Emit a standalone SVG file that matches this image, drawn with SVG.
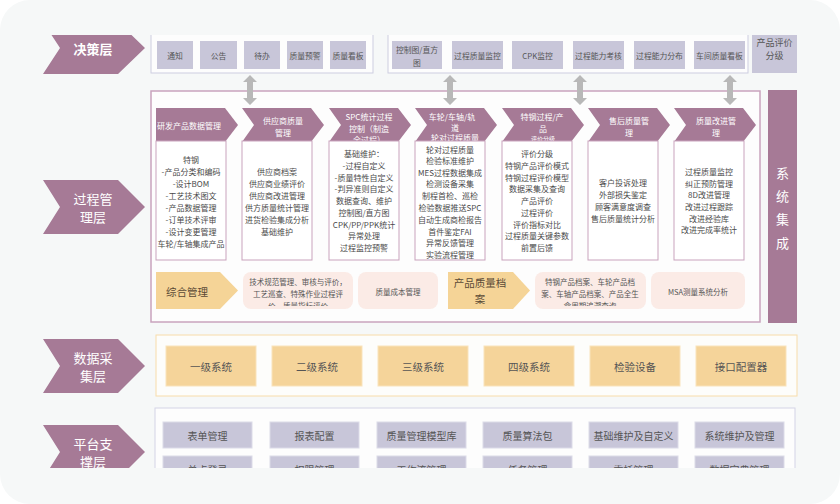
<svg xmlns="http://www.w3.org/2000/svg" width="840" height="504" viewBox="0 0 840 504">
<defs>
<clipPath id="view"><rect x="0" y="35" width="840" height="433"/></clipPath>
<clipPath id="rb1c"><rect x="243" y="272" width="110" height="34"/></clipPath>
<clipPath id="rb3c"><rect x="535" y="272" width="111" height="34"/></clipPath>
<style>
text{font-family:"Noto Sans CJK SC","Noto Sans",sans-serif;text-anchor:middle;dominant-baseline:central}
.lay{fill:#a67a96}
.layt{fill:#ffffff;font-size:13px}
.frame{fill:#fdfdfd;stroke:#cdcde0;stroke-width:1}
.tb{fill:#c8c6d9}
.tbt{fill:#555;font-size:7.8px}
.arr{fill:#b8b8b8}
.pframe{fill:#fdfdfd;stroke:#c9a3bd;stroke-width:1.5}
.hdr{fill:#a67a96}
.hdrt{fill:#ffffff;font-size:8px}
.body{fill:#ffffff;stroke:#c9a3bd;stroke-width:1}
.bt{fill:#4a4a4a;font-size:8px}
.ychev{fill:#f5d497}
.ycht{fill:#5b4a36;font-size:10.5px}
.rb{fill:#fbebe6}
.rbt{fill:#555;font-size:7.5px}
.dframe{fill:#fdfdfb;stroke:#f7dcaa;stroke-width:1}
.db{fill:#f5d49a;stroke:#f9e3bb;stroke-width:1}
.dbt{fill:#555;font-size:10.5px}
.plframe{fill:#fdfdfd;stroke:#d3d3e6;stroke-width:1}
.pb{fill:#c8c6d9;stroke:#dcdbe8;stroke-width:1}
.pbt{fill:#555;font-size:10px}
</style>
</defs>
<rect width="840" height="504" fill="#ffffff"/>
<rect width="840" height="504" rx="30" fill="#f6f8f8"/>
<g clip-path="url(#view)">
<g id="layer-decision">
<path class="lay" d="M43,22 L118,22 L145,48 L118,74 L43,74 L60,48 Z"/>
<text class="layt" x="93" y="48" font-weight="bold">决策层</text>
</g>
<g id="layer-process">
<path class="lay" d="M43,180 L118,180 L145,207 L118,234 L43,234 L60,207 Z"/>
<text class="layt" x="93" y="198">过程管</text>
<text class="layt" x="93" y="216">理层</text>
</g>
<g id="layer-data">
<path class="lay" d="M43,339 L118,339 L145,366 L118,393 L43,393 L60,366 Z"/>
<text class="layt" x="93" y="357">数据采</text>
<text class="layt" x="93" y="375">集层</text>
</g>
<g id="layer-platform">
<path class="lay" d="M43,425 L118,425 L145,452 L118,479 L43,479 L60,452 Z"/>
<text class="layt" x="93" y="443">平台支</text>
<text class="layt" x="93" y="461">撑层</text>
</g>

<g id="decision-group1">
<rect class="frame" x="151" y="28" width="222" height="45"/>
<g id="d-tongzhi"><rect class="tb" x="157" y="41" width="36" height="28"/><text class="tbt" x="175" y="55">通知</text></g>
<g id="d-gonggao"><rect class="tb" x="200" y="41" width="37" height="28"/><text class="tbt" x="218.5" y="55">公告</text></g>
<g id="d-daiban"><rect class="tb" x="244" y="41" width="36" height="28"/><text class="tbt" x="262" y="55">待办</text></g>
<g id="d-yujing"><rect class="tb" x="287" y="41" width="36" height="28"/><text class="tbt" x="305" y="55">质量预警</text></g>
<g id="d-kanban"><rect class="tb" x="330" y="41" width="36" height="28"/><text class="tbt" x="348" y="55">质量看板</text></g>
</g>
<g id="decision-group2">
<rect class="frame" x="388" y="28" width="360" height="45"/>
<g id="d-kzt"><rect class="tb" x="392" y="41" width="50" height="28"/><text class="tbt" x="417" y="49">控制图/直方</text><text class="tbt" x="417" y="62">图</text></g>
<g id="d-gcjk"><rect class="tb" x="452" y="41" width="51" height="28"/><text class="tbt" x="477.5" y="55">过程质量监控</text></g>
<g id="d-cpk"><rect class="tb" x="512" y="41" width="51" height="28"/><text class="tbt" x="537.5" y="55">CPK监控</text></g>
<g id="d-nlkh"><rect class="tb" x="573" y="41" width="51" height="28"/><text class="tbt" x="598.5" y="55">过程能力考核</text></g>
<g id="d-nlfb"><rect class="tb" x="634" y="41" width="51" height="28"/><text class="tbt" x="659.5" y="55">过程能力分布</text></g>
<g id="d-cjkb"><rect class="tb" x="694" y="41" width="51" height="28"/><text class="tbt" x="719.5" y="55">车间质量看板</text></g>
</g>
<g id="d-pjfj">
<rect class="tb" x="752" y="28" width="45" height="45"/>
<text class="tbt" x="774.5" y="42" style="font-size:9px">产品评价</text>
<text class="tbt" x="774.5" y="55" style="font-size:9px">分级</text>
</g>

<g id="process-frame">
<rect class="pframe" x="151" y="91" width="609" height="231"/>
</g>

<g id="system-integration">
<rect x="768" y="90" width="29" height="233" fill="#a67a96"/>
<text class="layt" x="782.5" y="172">系</text>
<text class="layt" x="782.5" y="195">统</text>
<text class="layt" x="782.5" y="218">集</text>
<text class="layt" x="782.5" y="242">成</text>
</g>

<g id="col1">
<path class="hdr" d="M156,108 L225,108 L238,125 L225,142 L156,142 Z"/>
<text class="hdrt" x="189" y="125">研发产品数据管理</text>
<rect class="body" x="156" y="141" width="70" height="119"/>
<text class="bt"><tspan x="191" y="159">特钢</tspan><tspan x="191" y="171">-产品分类和编码</tspan><tspan x="191" y="183">-设计BOM</tspan><tspan x="191" y="195">-工艺技术图文</tspan><tspan x="191" y="207">-产品数据管理</tspan><tspan x="191" y="219">-订单技术评审</tspan><tspan x="191" y="231">-设计变更管理</tspan><tspan x="191" y="243">车轮/车轴集成产品</tspan></text>
</g>
<g id="col2">
<path class="hdr" d="M242,108 L311,108 L324,125 L311,142 L242,142 L254,125 Z"/>
<text class="hdrt" x="283" y="120">供应商质量</text>
<text class="hdrt" x="283" y="132">管理</text>
<rect class="body" x="242" y="141" width="70" height="119"/>
<text class="bt"><tspan x="277" y="171">供应商档案</tspan><tspan x="277" y="183">供应商业绩评价</tspan><tspan x="277" y="195">供应商改进管理</tspan><tspan x="277" y="207">供方质量统计管理</tspan><tspan x="277" y="219">进货检验集成分析</tspan><tspan x="277" y="231">基础维护</tspan></text>
</g>
<g id="col3">
<path class="hdr" d="M329,108 L398,108 L411,125 L398,142 L329,142 L341,125 Z"/>
<text class="hdrt" x="369" y="116">SPC统计过程</text>
<text class="hdrt" x="369" y="128">控制（制造</text>
<text class="hdrt" x="369" y="139">全过程）</text>
<rect class="body" x="329" y="141" width="70" height="119"/>
<text class="bt"><tspan x="364" y="153">基础维护：</tspan><tspan x="364" y="165">-过程自定义</tspan><tspan x="364" y="176.5">-质量特性自定义</tspan><tspan x="364" y="188">-判异准则自定义</tspan><tspan x="364" y="200">数据查询、维护</tspan><tspan x="364" y="212">控制图/直方图</tspan><tspan x="364" y="223.5">CPK/PP/PPK统计</tspan><tspan x="364" y="235">异常处理</tspan><tspan x="364" y="247">过程监控预警</tspan></text>
</g>
<g id="col4">
<path class="hdr" d="M415,108 L484,108 L497,125 L484,142 L415,142 L427,125 Z"/>
<text class="hdrt" x="452" y="116">车轮/车轴/轨</text>
<text class="hdrt" x="455" y="127.5">道</text>
<text class="hdrt" x="455" y="137.5">轮对过程质量</text>
<rect class="body" x="415" y="141" width="70" height="119"/>
<text class="bt"><tspan x="450" y="148.5">轮对过程质量</tspan><tspan x="450" y="160">检验标准维护</tspan><tspan x="450" y="171.5">MES过程数据集成</tspan><tspan x="450" y="183">检测设备采集</tspan><tspan x="450" y="195">制程首检、巡检</tspan><tspan x="450" y="207">检验数据推送SPC</tspan><tspan x="450" y="219">自动生成商检报告</tspan><tspan x="450" y="230.5">首件鉴定FAI</tspan><tspan x="450" y="242">异常反馈管理</tspan><tspan x="450" y="254">实验流程管理</tspan></text>
</g>
<g id="col5">
<path class="hdr" d="M502,108 L571,108 L584,125 L571,142 L502,142 L514,125 Z"/>
<text class="hdrt" x="542" y="116">特钢过程/产</text>
<text class="hdrt" x="543" y="128">品</text>
<text class="hdrt" x="543" y="138" style="font-size:6px">评价分级</text>
<rect class="body" x="502" y="141" width="70" height="119"/>
<text class="bt"><tspan x="537" y="153">评价分级</tspan><tspan x="537" y="165">特钢产品评价模式</tspan><tspan x="537" y="176.5">特钢过程评价模型</tspan><tspan x="537" y="188">数据采集及查询</tspan><tspan x="537" y="200">产品评价</tspan><tspan x="537" y="212">过程评价</tspan><tspan x="537" y="223.5">评价指标对比</tspan><tspan x="537" y="235">过程质量关键参数</tspan><tspan x="537" y="247">前置后馈</tspan></text>
</g>
<g id="col6">
<path class="hdr" d="M588,108 L657,108 L670,125 L657,142 L588,142 L600,125 Z"/>
<text class="hdrt" x="629" y="120">售后质量管</text>
<text class="hdrt" x="629" y="132">理</text>
<rect class="body" x="588" y="141" width="70" height="119"/>
<text class="bt"><tspan x="623" y="182">客户投诉处理</tspan><tspan x="623" y="194">外部损失鉴定</tspan><tspan x="623" y="206">顾客满意度调查</tspan><tspan x="623" y="218">售后质量统计分析</tspan></text>
</g>
<g id="col7">
<path class="hdr" d="M674,108 L743,108 L756,125 L743,142 L674,142 L686,125 Z"/>
<text class="hdrt" x="716" y="120">质量改进管</text>
<text class="hdrt" x="716" y="132">理</text>
<rect class="body" x="674" y="141" width="70" height="119"/>
<text class="bt"><tspan x="709" y="171">过程质量监控</tspan><tspan x="709" y="182.5">纠正预防管理</tspan><tspan x="709" y="194">8D改进管理</tspan><tspan x="709" y="206">改进过程跟踪</tspan><tspan x="709" y="217.5">改进经验库</tspan><tspan x="709" y="229">改进完成率统计</tspan></text>
</g>

<g id="zonghe">
<path class="ychev" d="M156,272 L220,272 L238,290.5 L220,309 L156,309 Z"/>
<text class="ycht" x="187" y="291">综合管理</text>
</g>
<g id="rb1">
<rect class="rb" x="243" y="272" width="110" height="37" rx="8"/>
<g clip-path="url(#rb1c)"><text class="rbt"><tspan x="298" y="281">技术规范管理、审核与评价，</tspan><tspan x="298" y="293">工艺巡查、特殊作业过程评</tspan><tspan x="298" y="305">价、质量指标评价</tspan></text></g>
</g>
<g id="rb2">
<rect class="rb" x="358" y="272" width="80" height="37" rx="8"/>
<text class="rbt" x="398" y="291">质量成本管理</text>
</g>
<g id="dangan">
<path class="ychev" d="M448,272 L513,272 L530,290.5 L513,309 L448,309 Z"/>
<text class="ycht" x="480" y="282">产品质量档</text>
<text class="ycht" x="480" y="298">案</text>
</g>
<g id="rb3">
<rect class="rb" x="535" y="272" width="111" height="37" rx="8"/>
<g clip-path="url(#rb3c)"><text class="rbt"><tspan x="590" y="281">特钢产品档案、车轮产品档</tspan><tspan x="590" y="293">案、车轴产品档案、产品全生</tspan><tspan x="590" y="305">命周期追溯查询</tspan></text></g>
</g>
<g id="rb4">
<rect class="rb" x="651" y="272" width="94" height="37" rx="8"/>
<text class="rbt" x="698" y="291">MSA测量系统分析</text>
</g>

<g id="data-layer">
<rect class="dframe" x="156" y="335" width="641" height="61"/>
<g id="ds1"><rect class="db" x="166" y="346" width="90" height="40"/><text class="dbt" x="211" y="366">一级系统</text></g>
<g id="ds2"><rect class="db" x="272" y="346" width="90" height="40"/><text class="dbt" x="317" y="366">二级系统</text></g>
<g id="ds3"><rect class="db" x="378" y="346" width="90" height="40"/><text class="dbt" x="423" y="366">三级系统</text></g>
<g id="ds4"><rect class="db" x="484" y="346" width="90" height="40"/><text class="dbt" x="529" y="366">四级系统</text></g>
<g id="ds5"><rect class="db" x="590" y="346" width="90" height="40"/><text class="dbt" x="635" y="366">检验设备</text></g>
<g id="ds6"><rect class="db" x="696" y="346" width="90" height="40"/><text class="dbt" x="741" y="366">接口配置器</text></g>
</g>

<g id="platform-layer">
<rect class="plframe" x="155" y="408" width="640" height="80"/>
<g id="p1"><rect class="pb" x="163" y="422" width="89" height="26"/><text class="pbt" x="207.5" y="435">表单管理</text></g>
<g id="p2"><rect class="pb" x="270" y="422" width="89" height="26"/><text class="pbt" x="314.5" y="435">报表配置</text></g>
<g id="p3"><rect class="pb" x="377" y="422" width="89" height="26"/><text class="pbt" x="421.5" y="435">质量管理模型库</text></g>
<g id="p4"><rect class="pb" x="483" y="422" width="89" height="26"/><text class="pbt" x="527.5" y="435">质量算法包</text></g>
<g id="p5"><rect class="pb" x="589" y="422" width="89" height="26"/><text class="pbt" x="633.5" y="435">基础维护及自定义</text></g>
<g id="p6"><rect class="pb" x="695" y="422" width="89" height="26"/><text class="pbt" x="739.5" y="435">系统维护及管理</text></g>
<g id="p7"><rect class="pb" x="163" y="456" width="89" height="26"/><text class="pbt" x="207.5" y="469">单点登录</text></g>
<g id="p8"><rect class="pb" x="270" y="456" width="89" height="26"/><text class="pbt" x="314.5" y="469">权限管理</text></g>
<g id="p9"><rect class="pb" x="377" y="456" width="89" height="26"/><text class="pbt" x="421.5" y="469">工作流管理</text></g>
<g id="p10"><rect class="pb" x="483" y="456" width="89" height="26"/><text class="pbt" x="527.5" y="469">任务管理</text></g>
<g id="p11"><rect class="pb" x="589" y="456" width="89" height="26"/><text class="pbt" x="633.5" y="469">委托管理</text></g>
<g id="p12"><rect class="pb" x="695" y="456" width="89" height="26"/><text class="pbt" x="739.5" y="469">数据字典管理</text></g>
</g>

<g id="connectors">
<polygon class="arr" points="250,75 257,82 253,82 253,98 257,98 250,105 243,98 247,98 247,82 243,82"/>
<polygon class="arr" points="450,75 457,82 453,82 453,98 457,98 450,105 443,98 447,98 447,82 443,82"/>
<polygon class="arr" points="580,75 587,82 583,82 583,98 587,98 580,105 573,98 577,98 577,82 573,82"/>
<polygon class="arr" points="730,75 737,82 733,82 733,98 737,98 730,105 723,98 727,98 727,82 723,82"/>
</g>
</g>
</svg>
